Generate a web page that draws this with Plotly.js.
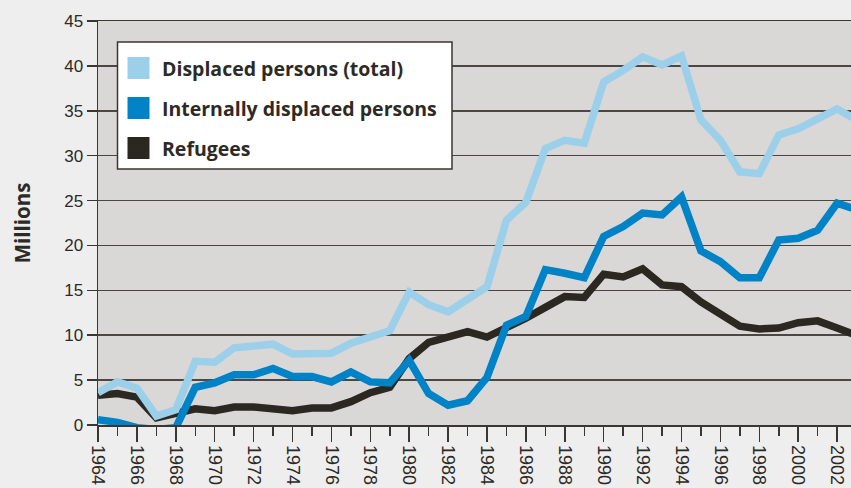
<!DOCTYPE html>
<html>
<head>
<meta charset="utf-8">
<script src="https://cdn.plot.ly/plotly-3.0.1.min.js"></script>
<style>
  html, body { margin: 0; padding: 0; background: #eeeeee; }
  #chart { width: 851px; height: 488px; }
</style>
</head>
<body>
<div id="chart"></div>
<script>
// ---- data ----
const years = [1964,1965,1966,1967,1968,1969,1970,1971,1972,1973,1974,1975,1976,1977,1978,1979,1980,1981,1982,1983,1984,1985,1986,1987,1988,1989,1990,1991,1992,1993,1994,1995,1996,1997,1998,1999,2000,2001,2002,2003];

const displacedTotal = [3.6,4.8,4.1,1.0,1.7,7.1,7.0,8.6,8.8,9.0,7.9,7.9,8.0,9.1,9.7,10.5,14.8,13.4,12.6,14.1,15.4,22.8,24.8,30.8,31.7,31.4,38.2,39.5,41.0,40.1,41.1,34.0,31.7,28.2,28.0,32.3,33.0,34.1,35.2,34.0];

const internallyDisplaced = [0.6,0.3,-0.3,-0.5,-0.3,4.2,4.7,5.6,5.6,6.3,5.4,5.4,4.8,5.9,4.8,4.7,7.2,3.5,2.2,2.7,5.3,11.1,12.1,17.3,16.9,16.4,21.0,22.1,23.6,23.4,25.4,19.4,18.2,16.4,16.4,20.6,20.8,21.7,24.7,24.0];

const refugees = [3.3,3.5,3.1,0.8,1.3,1.8,1.6,2.0,2.0,1.8,1.6,1.9,1.9,2.6,3.6,4.2,7.4,9.2,9.7,10.4,9.8,10.8,11.9,13.1,14.3,14.2,16.8,16.5,17.4,15.6,15.4,13.7,12.3,11.0,10.7,10.8,11.4,11.6,10.8,10.0];

const seriesNames = ["Displaced persons (total)", "Internally displaced persons", "Refugees"];
const seriesColors = ["#9bcfea", "#0082c6", "#2b2721"];
const yTickVals = [0,5,10,15,20,25,30,35,40,45];
const yAxisTitle = "Millions";

// ---- layout helpers ----
const W = 851, H = 488;
const M = {l: 98, r: 0, t: 21, b: 63};
const pw = W - M.l - M.r, ph = H - M.t - M.b;
const px = x => (x - M.l) / pw;          // page pixel -> paper x
const py = y => (H - M.b - y) / ph;      // page pixel -> paper y
const pxPerYear = 19.45;
const xMax = 1964 + pw / pxPerYear;

const ink = "#2d2a25";
const labelFont = "'Open Sans', Lato, sans-serif";

const traces = [
  {x: years, y: refugees, name: seriesNames[2], color: seriesColors[2]},
  {x: years, y: displacedTotal, name: seriesNames[0], color: seriesColors[0]},
  {x: years, y: internallyDisplaced, name: seriesNames[1], color: seriesColors[1]}
].map(s => ({
  type: "scatter", mode: "lines", x: s.x, y: s.y, name: s.name,
  line: {color: s.color, width: 7.5},
  showlegend: false, hoverinfo: "skip"
}));

// manual legend (box, square swatches, bold labels)
const shapes = [
  {type: "rect", xref: "paper", yref: "paper",
   x0: px(117.5), x1: px(452), y0: py(169), y1: py(42),
   fillcolor: "#ffffff", line: {color: "#3a3631", width: 1.5}}
];
const annotations = [];
const rowCenters = [68, 108, 148];
for (let i = 0; i < 3; i++) {
  const c = rowCenters[i];
  shapes.push({type: "rect", xref: "paper", yref: "paper",
    x0: px(127.5), x1: px(149.5), y0: py(c + 11), y1: py(c - 11),
    fillcolor: seriesColors[i], line: {width: 0}});
  annotations.push({xref: "paper", yref: "paper", x: px(160), y: py(c + 0.5),
    xanchor: "left", yanchor: "middle", showarrow: false,
    text: "<b>" + seriesNames[i] + "</b>",
    font: {family: labelFont, size: 19.5, color: ink}});
}

const layout = {
  width: W, height: H,
  margin: M,
  paper_bgcolor: "#eeeeee",
  plot_bgcolor: "#d9d8d7",
  showlegend: false,
  font: {family: "'Liberation Sans', Arial, sans-serif", color: ink, size: 17},
  xaxis: {
    range: [1964, xMax],
    tick0: 1964, dtick: 2, tickmode: "linear",
    ticks: "outside", ticklen: 15, tickwidth: 1.5, tickcolor: "#3a3631",
    minor: {dtick: 1, tick0: 1964, ticks: "outside", ticklen: 9, tickwidth: 1.5, tickcolor: "#3a3631", showgrid: false},
    tickangle: 90,
    ticklabelstandoff: 0,
    tickfont: {size: 18, color: ink},
    showgrid: false, zeroline: false,
    showline: true, linecolor: "#3a3631", linewidth: 1.5, mirror: true,
    fixedrange: true
  },
  yaxis: {
    range: [0, 45],
    tickvals: yTickVals,
    ticks: "outside", ticklen: 10, tickwidth: 1.5, tickcolor: "#3a3631",
    tickfont: {size: 17, color: ink},
    showgrid: true, gridcolor: "#4b4742", gridwidth: 1.5,
    zeroline: false,
    showline: true, linecolor: "#3a3631", linewidth: 1.5,
    title: {text: "<b>" + yAxisTitle + "</b>", standoff: 28,
            font: {family: labelFont, size: 20.5, color: ink}},
    fixedrange: true
  },
  shapes: shapes,
  annotations: annotations
};

Plotly.newPlot("chart", traces, layout, {staticPlot: true, displayModeBar: false});
</script>
</body>
</html>
